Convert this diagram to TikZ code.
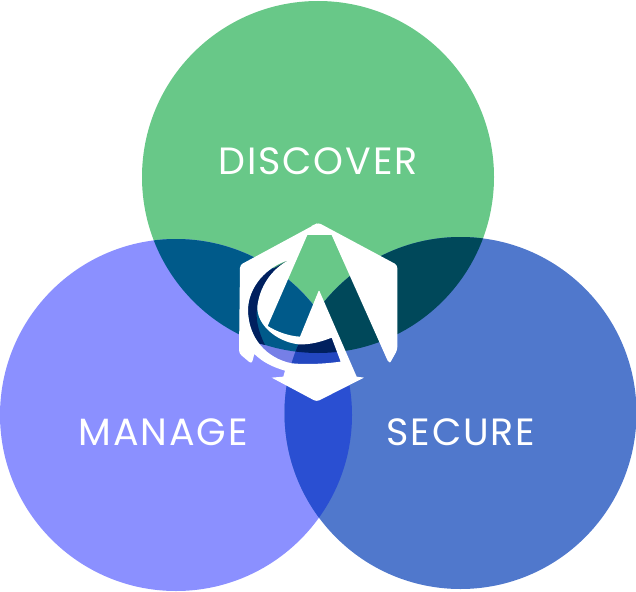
\documentclass[tikz,border=0pt]{standalone}
\usepackage{fontspec}
\setmainfont{Poppins}[LetterSpace=5]
\definecolor{greenc}{HTML}{68C888}
\definecolor{purplec}{HTML}{8B90FF}
\definecolor{bluec}{HTML}{5078CC}
\definecolor{tealc}{HTML}{005A8A}
\definecolor{darktealc}{HTML}{00485A}
\definecolor{lensc}{HTML}{2A4FD2}
\definecolor{navyc}{HTML}{00205F}
\tikzset{
  lab/.style={text=white, font=\fontsize{38}{38}\selectfont, inner sep=0pt},
  logo/.style={fill=white, even odd rule, line join=round}
}
\def\discover{(318,177) circle [radius=176pt]}
\def\manage{(176,415) circle [radius=176pt]}
\def\secure{(460.5,413) circle [radius=176pt]}
\def\swoosh{(207,150) .. controls (150,180) and (118,235) .. (112,290) .. controls (110,345) and (170,395) .. (235,403)
     .. controls (270,405) and (305,395) .. (335,383) -- (362,455) .. controls (310,462) and (260,464) .. (215,460)
     .. controls (140,445) and (85,385) .. (84,300) .. controls (85,230) and (140,170) .. (207,150) -- cycle}
\begin{document}
\begin{tikzpicture}[x=1pt, y=-1pt]
  \useasboundingbox (0,0) rectangle (636,591);
  \fill[greenc] \discover;
  \fill[purplec] \manage;
  \fill[bluec] \secure;

  % overlaps
  \begin{scope}
    \clip \discover;
    \fill[tealc] \manage;
    \fill[darktealc] \secure;
  \end{scope}
  \begin{scope}
    \clip \manage;
    \fill[lensc] \secure;
    \clip \secure;
    \fill[navyc] \discover;
  \end{scope}

  % logo, in the pixels of a 3x crop
  \begin{scope}[x=0.3333pt, y=-0.3333pt, shift={(220pt,-210pt)}]
    \begin{scope}
      \clip \swoosh;
      \fill[navyc, opacity=.15, even odd rule] (50,300) rectangle (400,500) (294,-99) circle [radius=176pt];
      \fill[navyc] (207,150) -- (60,230) -- (70,390) -- (135,405) .. controls (108,350) and (100,300) .. (125,250) -- cycle;
    \end{scope}
    \path[logo] (295,38) [rounded corners=3pt] -- (60,165) -- (57,430) -- (95,462) [sharp corners] -- (103,432)
       .. controls (130,458) and (160,472) .. (195,482) -- (190,500) -- (155,503) [rounded corners=3pt] -- (290,575)
       [sharp corners] -- (432,503) -- (410,500) [rounded corners=1pt] -- (297,240) [sharp corners] -- (240,380)
       .. controls (205,378) and (170,365) .. (143,348) -- (262,75) -- (335,75) -- (503,452) [rounded corners=1pt] -- (510,459)
       [rounded corners=3pt] -- (532,420) -- (532,165) -- (295,38) -- (270,50) -- cycle
       [sharp corners] \swoosh;
  \end{scope}

  \node[lab] (disc) at (318,161) {DISCOVER};
  \node[lab] (mana) at (163,432) {MANAGE};
  \node[lab] (secu) at (461,432) {SECURE};
\end{tikzpicture}
\end{document}
